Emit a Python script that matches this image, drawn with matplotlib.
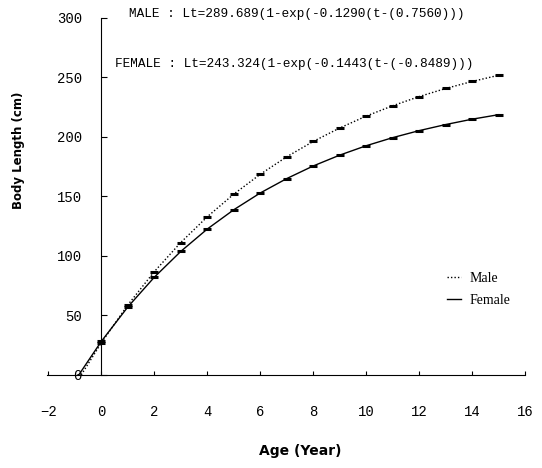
import matplotlib.pyplot as plt

# values (mean body length at age)
age = [0, 1, 2, 3, 4, 5, 6, 7, 8, 9, 10, 11, 12, 13, 14, 15]
male_len = [26.9, 58.7, 86.7, 111.2, 132.8, 151.8, 168.5, 183.2, 196.1,
            207.4, 217.4, 226.1, 233.8, 240.6, 246.5, 251.7]
female_len = [28.1, 57.0, 82.0, 103.7, 122.5, 138.7, 152.8, 164.9, 175.5,
              184.6, 192.5, 199.3, 205.2, 210.3, 214.8, 218.6]
male_t0 = -0.756
female_t0 = -0.8489

male_eq = "MALE : Lt=289.689(1-exp(-0.1290(t-(0.7560)))"
female_eq = "FEMALE : Lt=243.324(1-exp(-0.1443(t-(-0.8489)))"

xticks = [-2, 0, 2, 4, 6, 8, 10, 12, 14, 16]
yticks = [0, 50, 100, 150, 200, 250, 300]

fig = plt.figure(figsize=(5.42, 4.68), dpi=100)
ax = fig.add_axes([0.0867, 0.199, 0.887, 0.763])

ax.plot([male_t0] + age, [0] + male_len, ls=(0, (1, 1.5)), color="black", lw=1.0, label="Male")
ax.plot([female_t0] + age, [0] + female_len, ls="-", color="black", lw=1.0, label="Female")
ax.plot(age, male_len, ls="none", marker="_", ms=6, mew=2.2, color="black")
ax.plot(age, female_len, ls="none", marker="_", ms=6, mew=2.2, color="black")

ax.set_xlim(-2.05, 16.1)
ax.set_ylim(0, 300)
ax.spines["left"].set_position(("data", 0))
ax.spines["right"].set_visible(False)
ax.spines["top"].set_visible(False)
ax.spines["bottom"].set_bounds(-2.05, 16.0)

ax.set_xticks(xticks)
ax.set_yticks(yticks)
ax.tick_params(axis="x", direction="in", length=3, pad=22)
ax.tick_params(axis="y", direction="in", length=4, pad=14)
for lab in ax.get_xticklabels() + ax.get_yticklabels():
    lab.set_fontfamily("Liberation Mono")
    lab.set_fontsize(10)

ax.text(1.05, 303, male_eq, family="Liberation Mono", fontsize=9.2, va="center")
ax.text(0.5, 261, female_eq, family="Liberation Mono", fontsize=9.2, va="center")

ax.set_xlabel("Age (Year)", fontsize=10, fontweight="bold")
ax.set_ylabel("Body Length (cm)", fontsize=8.5, fontweight="bold")
ax.xaxis.set_label_coords(0.526, -0.195)
ax.yaxis.set_label_coords(-0.046, 0.628)

leg = ax.legend(loc="upper left", bbox_to_anchor=(0.806, 0.324), frameon=False,
                handlelength=1.0, handletextpad=0.6, labelspacing=0.65,
                prop={"family": "Liberation Serif", "size": 10})

fig.savefig("out.png", dpi=100)
